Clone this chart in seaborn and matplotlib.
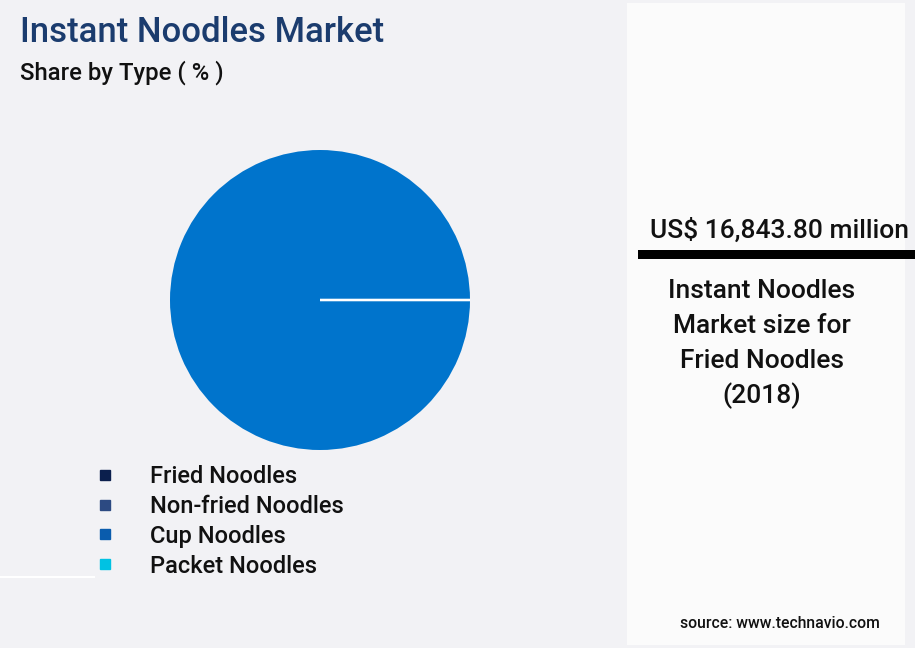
import matplotlib
matplotlib.use("Agg")
import matplotlib.pyplot as plt
from matplotlib.lines import Line2D
from matplotlib.patches import Rectangle
import seaborn as sns

# data
types = ["Fried Noodles", "Non-fried Noodles", "Cup Noodles", "Packet Noodles"]
shares = [100, 0, 0, 0]
legend_colors = ["#0B1F4D", "#2C4A82", "#0A5CAD", "#00C2E3"]
pie_colors = ["#0074CC", "#0074CC", "#0074CC", "#0074CC"]
headline_value = "US$ 16,843.80 million"
headline_caption = ["Instant Noodles", "Market size for", "Fried Noodles", "(2018)"]

sns.set_theme(style="white")
plt.rcParams["font.family"] = ["Roboto", "DejaVu Sans"]

W, H = 915, 648
fig = plt.figure(figsize=(W / 100, H / 100), dpi=100)
fig.patch.set_facecolor("#F2F2F5")


def fx(px):
    return px / W


def fy(py):
    return 1 - py / H


# right info panel
fig.patches.append(Rectangle((fx(627), fy(645)), fx(905) - fx(627), fy(3) - fy(645),
                             transform=fig.transFigure, facecolor="#FBFBFB",
                             edgecolor="none", zorder=0))
fig.patches.append(Rectangle((0, fy(578)), fx(95), 2 / H, transform=fig.transFigure,
                             facecolor="#FFFFFF", edgecolor="none", zorder=0))

# titles
fig.text(fx(20), fy(33), "Instant Noodles Market", fontsize=25, fontweight="medium",
         color="#1B3C6E", va="center", ha="left")
fig.text(fx(20), fy(73), "Share by Type ( % )", fontsize=17.2, fontweight="medium",
         color="#111111", va="center", ha="left")

# pie
ax = fig.add_axes([fx(170), fy(450), fx(300), 300 / H])
wedges, _ = ax.pie(shares, colors=pie_colors, startangle=0, counterclock=True,
                   radius=1, wedgeprops=dict(linewidth=0))
for w, s in zip(wedges, shares):
    if s == 0:
        w.set_edgecolor("white")
        w.set_linewidth(1.6)
ax.set_xlim(-1, 1)
ax.set_ylim(-1, 1)
ax.set_aspect("equal")
ax.axis("off")

# legend
handles = [Line2D([], [], marker="s", linestyle="none", markersize=7.5,
                  markerfacecolor=c, markeredgecolor=c) for c in legend_colors]
leg = fig.legend(handles, types, loc="upper left", bbox_to_anchor=(fx(94), fy(465)),
                 frameon=False, handlelength=0.94, handletextpad=1.43,
                 borderpad=0, borderaxespad=0, labelspacing=0.29,
                 prop=dict(size=17, weight="medium"), labelcolor="#111111")

# headline panel text
fig.text(fx(780), fy(230), headline_value, fontsize=19, fontweight="medium",
         color="#111111", ha="center", va="center")
fig.patches.append(Rectangle((fx(638), fy(259)), 1 - fx(638), 9 / H,
                             transform=fig.transFigure, facecolor="black",
                             edgecolor="none"))
for i, line in enumerate(headline_caption):
    fig.text(fx(762), fy(291 + 35 * i), line, fontsize=19, fontweight="medium",
             color="#111111", ha="center", va="center")

fig.text(fx(780), fy(624), "source: www.technavio.com", fontsize=11.3,
         fontweight="medium", color="#111111", ha="center", va="center")

fig.savefig("out.png", dpi=100, facecolor=fig.get_facecolor())
